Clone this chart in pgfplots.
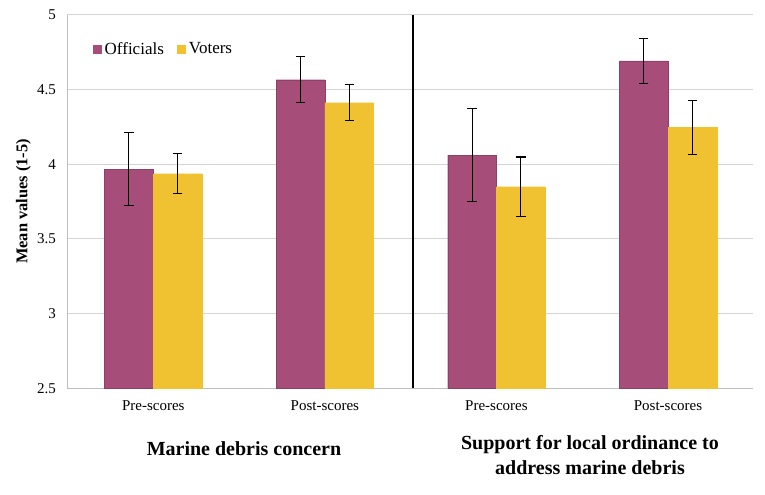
\documentclass[border=0pt]{standalone}
\usepackage{pgfplots}
\pgfplotsset{compat=1.18}
\usepackage{fontspec}
\setmainfont{Liberation Serif}
\definecolor{offc}{HTML}{A64D79}
\definecolor{votc}{HTML}{F0C232}
\definecolor{gridc}{HTML}{D4D4D4}
\definecolor{axc}{HTML}{BFBFBF}
\pgfplotsset{sqlegend/.style={legend image code/.code={\fill[##1,draw=none] (-1.5pt,-3.4pt) rectangle (5.3pt,3.4pt);}}}
\begin{document}
\begin{tikzpicture}
\useasboundingbox (0,0) rectangle (573.75pt,371.25pt);
\begin{axis}[
  at={(50.5pt,80.0pt)}, anchor=south west,
  scale only axis, width=514.5pt, height=280.2pt,
  ybar, bar width=0.284,
  xmin=-0.501, xmax=3.497, ymin=2.5, ymax=5,
  ytick={2.5,3,3.5,4,4.5,5},
  xtick=data, xticklabels={Pre-scores,Post-scores,Pre-scores,Post-scores},
  axis lines*=left, axis line style={axc, line width=0.8pt},
  major tick length=0pt,
  ymajorgrids, grid style={gridc, line width=0.8pt},
  /pgf/number format/assume math mode=true,
  tick label style={font=\fontsize{11.25}{13}\selectfont},
  yticklabel style={xshift=-5pt},
  xticklabel style={yshift=-6pt},
  ylabel={Mean values (1-5)},
  ylabel style={at={([xshift=-33pt]rel axis cs:0,0.5)}, anchor=center, font=\bfseries\fontsize{12.3}{14}\selectfont},
  legend style={draw=none, fill=none, at={(0.037,0.934)}, anchor=north west, font=\fontsize{12.75}{14}\selectfont, inner sep=0pt, /tikz/every even column/.append style={column sep=8pt}},
  legend columns=2, legend cell align=left,
  clip=false,
]
\addplot[sqlegend, fill=offc, draw=offc!85!black, line width=0.3pt, bar shift=-0.142,
  error bars/.cd, y dir=both, y explicit, error bar style={black, line width=0.8pt}, error mark options={black, line width=0.8pt, mark size=3.5pt, rotate=90}]
  coordinates {(0,3.967) +- (0,0.245) (1,4.565) +- (0,0.154) (2,4.061) +- (0,0.313) (3,4.692) +- (0,0.150)};
\addplot[sqlegend, fill=votc, draw=votc, line width=0.3pt, bar shift=0.142,
  error bars/.cd, y dir=both, y explicit, error bar style={black, line width=0.8pt}, error mark options={black, line width=0.8pt, mark size=3.5pt, rotate=90}]
  coordinates {(0,3.936) +- (0,0.133) (1,4.411) +- (0,0.121) (2,3.849) +- (0,0.199) (3,4.246) +- (0,0.182)};
\legend{Officials, Voters}
\draw[black, line width=1.6pt] (axis cs:1.515,2.5) -- (axis cs:1.515,5);
\end{axis}
\node[font=\bfseries\fontsize{15}{18.75}\selectfont, anchor=center] at (183pt,34.5pt) {Marine debris concern};
\node[font=\bfseries\fontsize{15}{18.75}\selectfont, anchor=center, align=center] at (442.5pt,29.6pt) {Support for local ordinance to\\address marine debris};
\end{tikzpicture}
\end{document}
